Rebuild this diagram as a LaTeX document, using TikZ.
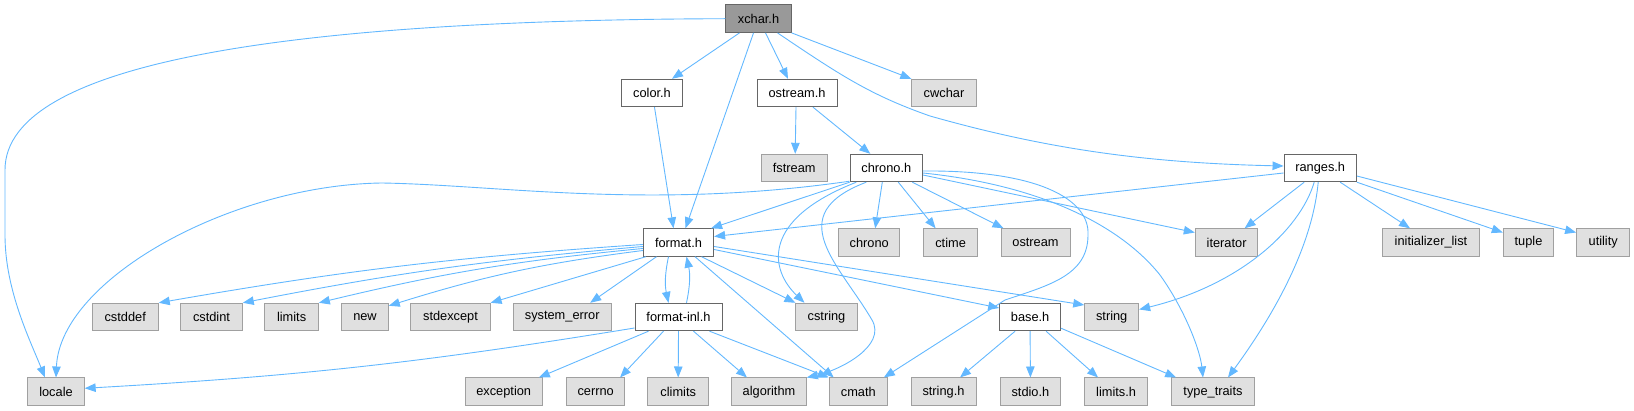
\documentclass[tikz,border=0pt]{standalone}
\usepackage{fontspec}
\setmainfont{Liberation Sans}
\usepackage{tikz}
\usetikzlibrary{arrows.meta}
\definecolor{edgeblue}{RGB}{99,184,255}
\definecolor{rootfill}{RGB}{153,153,153}
\definecolor{darkframe}{RGB}{102,102,102}
\definecolor{sysfill}{RGB}{224,224,224}
\definecolor{sysframe}{RGB}{160,160,160}

\begin{document}
\begin{tikzpicture}[x=1pt, y=-1pt,
    box/.style={draw, line width=1pt, minimum height=27.4pt, inner sep=0pt,
                font=\fontsize{12.8}{14}\selectfont},
    mainfile/.style={box, draw=darkframe, fill=rootfill},
    file/.style={box, draw=darkframe, fill=white},
    sysfile/.style={box, draw=sysframe, fill=sysfill},
    edge/.style={draw=edgeblue, line width=0.9pt,
                 -{Triangle[length=11pt, width=8.5pt]}}]
  \useasboundingbox (0,0) rectangle (1634,411);

  % Row 1 and 2
  \node[mainfile, minimum width=65.3pt] (xchar) at (758.5,18.7) {xchar.h};
  \node[file, minimum width=61pt] (color) at (652,93) {color.h};
  \node[file, minimum width=80pt] (ostreamh) at (797,93) {ostream.h};
  \node[sysfile, minimum width=64.3pt] (cwchar) at (944,93) {cwchar};

  % Row 3
  \node[sysfile, minimum width=66pt] (fstream) at (794.2,168) {fstream};
  \node[file, minimum width=72.3pt] (chronoh) at (886.3,168) {chrono.h};
  \node[file, minimum width=72.3pt] (ranges) at (1320.2,168) {ranges.h};

  % Row 4
  \node[file, minimum width=70.2pt] (formath) at (678.5,242.5) {format.h};
  \node[sysfile, minimum width=61pt] (chronostd) at (869.2,242.5) {chrono};
  \node[sysfile, minimum width=54.3pt] (ctime) at (950.6,242.5) {ctime};
  \node[sysfile, minimum width=69pt] (ostreamstd) at (1035.5,242.5) {ostream};
  \node[sysfile, minimum width=62.6pt] (iterator) at (1226.6,242.5) {iterator};
  \node[sysfile, minimum width=96.6pt] (initlist) at (1431,242.5) {initializer\_list};
  \node[sysfile, minimum width=50.4pt] (tuple) at (1528.5,242.5) {tuple};
  \node[sysfile, minimum width=53.2pt] (utility) at (1603.2,242.5) {utility};

  % Row 5
  \node[sysfile, minimum width=66.1pt] (cstddef) at (125.2,317) {cstddef};
  \node[sysfile, minimum width=61.6pt] (cstdint) at (211.5,317) {cstdint};
  \node[sysfile, minimum width=53.5pt] (limits) at (291.6,317) {limits};
  \node[sysfile, minimum width=46.6pt] (newh) at (365,317) {new};
  \node[sysfile, minimum width=79.2pt] (stdexcept) at (450.5,317) {stdexcept};
  \node[sysfile, minimum width=97.6pt] (syserr) at (562.2,317) {system\_error};
  \node[file, minimum width=87pt] (formatinl) at (678.5,317) {format-inl.h};
  \node[sysfile, minimum width=61.1pt] (cstring) at (826.5,317) {cstring};
  \node[file, minimum width=60.8pt] (base) at (1030.1,317) {base.h};
  \node[sysfile, minimum width=53.9pt] (string) at (1111.7,317) {string};

  % Row 6
  \node[sysfile, minimum width=56.3pt] (locale) at (56,391.7) {locale};
  \node[sysfile, minimum width=77.2pt] (exception) at (503.7,391.7) {exception};
  \node[sysfile, minimum width=57.7pt] (cerrno) at (595.7,391.7) {cerrno};
  \node[sysfile, minimum width=60.5pt] (climits) at (678.2,391.7) {climits};
  \node[sysfile, minimum width=74.7pt] (algorithm) at (769,391.7) {algorithm};
  \node[sysfile, minimum width=58.1pt] (cmath) at (858.3,391.7) {cmath};
  \node[sysfile, minimum width=65pt] (stringh) at (943.5,391.7) {string.h};
  \node[sysfile, minimum width=60.1pt] (stdio) at (1030.4,391.7) {stdio.h};
  \node[sysfile, minimum width=62.6pt] (limitsh) at (1116.1,391.7) {limits.h};
  \node[sysfile, minimum width=82.7pt] (typetraits) at (1213,391.7) {type\_traits};

  % xchar.h
  \draw[edge] (xchar.west) .. controls (300,20) and (5,60) .. (5,170) -- (5,235)
    .. controls (5,290) and (30,340) .. ([xshift=-11pt]locale.north);
  \draw[edge] ([xshift=-19pt]xchar.south) -- ([xshift=20pt]color.north);
  \draw[edge] ([xshift=-5pt]xchar.south) -- ([xshift=7pt]formath.north);
  \draw[edge] ([xshift=7pt]xchar.south) -- ([xshift=-9pt]ostreamh.north);
  \draw[edge] ([xshift=19pt]xchar.south) .. controls (840,75) and (870,95) .. (930,116)
    .. controls (1050,150) and (1150,163) .. ([yshift=2pt]ranges.west);
  \draw[edge] (xchar.south east) -- (cwchar.north west);

  % color.h, ostream.h
  \draw[edge] ([xshift=2.5pt]color.south) -- ([xshift=-5pt]formath.north);
  \draw[edge] ([xshift=-1pt]ostreamh.south) -- ([xshift=1pt]fstream.north);
  \draw[edge] ([xshift=16pt]ostreamh.south) -- ([xshift=-16pt]chronoh.north);

  % chrono.h
  \draw[edge] ([yshift=1pt]chronoh.south west) .. controls (650,210) and (500,185) .. (382,183)
    .. controls (230,185) and (60,280) .. (locale.north);
  \draw[edge] (chronoh.south west) -- ([xshift=-3pt]formath.north east);
  \draw[edge] ([xshift=-30pt]chronoh.south) .. controls (760,220) and (770,270)
    .. ([xshift=-22pt]cstring.north);
  \draw[edge] ([xshift=-20pt]chronoh.south) .. controls (780,215) and (840,265) .. (872,320)
    .. controls (887,346) and (840,370) .. (algorithm.north east);
  \draw[edge] ([xshift=-4pt]chronoh.south) -- ([xshift=6pt]chronostd.north);
  \draw[edge] ([xshift=12pt]chronoh.south) -- ([xshift=-15pt]ctime.north);
  \draw[edge] ([xshift=26pt]chronoh.south) -- ([xshift=-32pt]ostreamstd.north);
  \draw[edge] ([yshift=-7pt]chronoh.east) -- ([yshift=10pt]iterator.west);
  \draw[edge] ([yshift=-5pt]chronoh.east) .. controls (1040,185) and (1120,225) .. (1160,275)
    .. controls (1185,310) and (1200,350) .. ([xshift=-10pt]typetraits.north);
  \draw[edge] ([yshift=-3pt]chronoh.east) .. controls (1040,170) and (1090,200) .. (1088,235)
    .. controls (1088,275) and (1050,285) .. (1005,300) -- ([xshift=-4pt]cmath.north east);

  % ranges.h
  \draw[edge] ([yshift=-5pt]ranges.west) -- ([yshift=6pt]formath.east);
  \draw[edge] ([xshift=-16pt]ranges.south) -- ([xshift=18pt]iterator.north);
  \draw[edge] ([xshift=-6pt]ranges.south) .. controls (1300,230) and (1240,285)
    .. ([yshift=7.5pt]string.east);
  \draw[edge] ([xshift=-2pt]ranges.south) .. controls (1312,250) and (1270,320)
    .. ([xshift=15pt]typetraits.north);
  \draw[edge] ([xshift=20pt]ranges.south) -- ([xshift=-21pt]initlist.north);
  \draw[edge] (ranges.south east) -- ([yshift=10pt]tuple.west);
  \draw[edge] ([yshift=-8pt]ranges.east) -- ([yshift=10pt]utility.west);

  % format.h
  \draw[edge] ([yshift=-2pt]formath.west) to[bend right=3] (cstddef.north east);
  \draw[edge] ([yshift=-4pt]formath.west) to[bend right=3] (cstdint.north east);
  \draw[edge] ([yshift=-6pt]formath.west) to[bend right=4] (limits.north east);
  \draw[edge] ([yshift=-8pt]formath.west) to[bend right=5] ([yshift=-3pt]newh.north east);
  \draw[edge] ([xshift=3pt]formath.south west) -- (stdexcept.north east);
  \draw[edge] ([xshift=-22pt]formath.south) -- ([xshift=28pt]syserr.north);
  \draw[edge] ([xshift=-10pt]formath.south) to[bend right=12] ([xshift=-10pt]formatinl.north);
  \draw[edge] ([xshift=8pt]formatinl.north) to[bend right=12] ([xshift=8pt]formath.south);
  \draw[edge] ([xshift=16.5pt]formath.south) -- ([xshift=5pt]cmath.north west);
  \draw[edge] ([xshift=23pt]formath.south) -- (cstring.north west);
  \draw[edge] ([yshift=-7pt]formath.east) -- ([yshift=9pt]base.west);
  \draw[edge] ([yshift=-4pt]formath.east) -- ([yshift=12pt]string.west);

  % format-inl.h
  \draw[edge] ([yshift=-11pt]formatinl.west) to[bend left=3] ([yshift=3.4pt]locale.east);
  \draw[edge] ([xshift=-30pt]formatinl.south) -- ([xshift=-4pt]exception.north east);
  \draw[edge] ([xshift=-15pt]formatinl.south) -- ([xshift=-5pt]cerrno.north east);
  \draw[edge] (formatinl.south) -- (climits.north);
  \draw[edge] ([xshift=15pt]formatinl.south) -- ([xshift=-22pt]algorithm.north);
  \draw[edge] ([xshift=31pt]formatinl.south) -- (cmath.north west);

  % base.h
  \draw[edge] ([xshift=-15pt]base.south) -- ([xshift=16.5pt]stringh.north);
  \draw[edge] (base.south) -- (stdio.north);
  \draw[edge] ([xshift=16pt]base.south) -- ([xshift=-18pt]limitsh.north);
  \draw[edge] ([yshift=3pt]base.south east) -- ([xshift=5pt]typetraits.north west);
\end{tikzpicture}
\end{document}
